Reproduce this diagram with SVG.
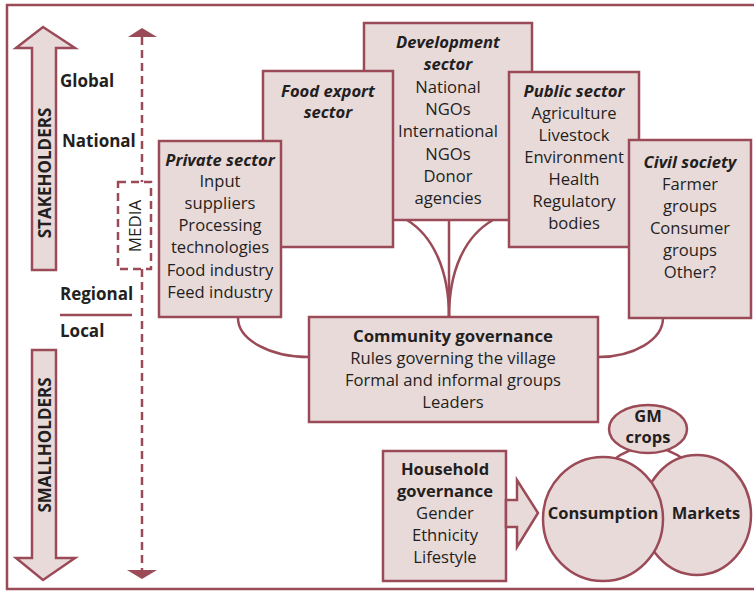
<svg xmlns="http://www.w3.org/2000/svg" width="754" height="592" viewBox="0 0 754 592">
<style>
.box{fill:#e9dada;stroke:#9b4b57;stroke-width:2.5}
.ln{fill:none;stroke:#9b4b57;stroke-width:2.5}
.dash{fill:none;stroke:#9b4b57;stroke-width:2.5;stroke-dasharray:8 5}
.hd{fill:#9b4b57;stroke:none}
text{font-family:"Open Sans","DejaVu Sans",sans-serif;fill:#231f20;text-anchor:middle}
.t{font-size:16.6px}
.bi{font-size:16.6px;font-weight:bold;font-style:italic}
.b{font-size:16.5px;font-weight:bold}
.lab{font-size:17px;font-weight:bold;text-anchor:start}
</style>
<rect x="7" y="5" width="770" height="584" class="ln" stroke-width="3"/>
<g id="stakeholders">
<polygon class="box" points="43,27 75,48 56,48 56,270 32,270 32,48 16,48"/>
<text class="b" style="font-size:17px" transform="translate(51,173) rotate(-90)">STAKEHOLDERS</text>
</g>
<g id="smallholders">
<polygon class="box" points="32,350 56,350 56,558 75,558 43,580 16,558 32,558"/>
<text class="b" style="font-size:17px" transform="translate(51,445) rotate(-90)">SMALLHOLDERS</text>
</g>
<g id="levels">
<text class="lab" x="60" y="87">Global</text>
<text class="lab" x="62" y="147">National</text>
<text class="lab" x="60" y="300">Regional</text>
<line class="ln" x1="60" y1="315" x2="132" y2="315"/>
<text class="lab" x="60" y="337">Local</text>
</g>
<g id="media">
<line class="dash" x1="142" y1="37" x2="142" y2="182"/>
<line class="dash" x1="142" y1="269" x2="142" y2="571"/>
<polygon class="hd" points="142,28 157,37 128,37"/>
<polygon class="hd" points="127,570 157,570 142,579"/>
<rect class="dash" x="118" y="182" width="33" height="87"/>
<text class="t" style="font-size:17px" transform="translate(141,226) rotate(-90)">MEDIA</text>
</g>
<g id="connectors">
<path class="ln" d="M238 318 A71 39 0 0 0 309 357"/>
<path class="ln" d="M663 318 A65 39 0 0 1 598 357"/>
<line class="ln" x1="449" y1="220" x2="449" y2="317"/>
<path class="ln" d="M407 220 C433 236 449 270 449 317"/>
<path class="ln" d="M493 220 C465 236 449 270 449 317"/>
<path class="ln" d="M612 461 Q648 432 686 461"/>
</g>
<g id="development">
<rect class="box" x="364" y="23" width="168" height="197"/>
<text class="bi" x="448" y="48">Development</text>
<text class="bi" x="448" y="70">sector</text>
<text class="t" x="448" y="93">National</text>
<text class="t" x="448" y="115">NGOs</text>
<text class="t" x="448" y="137">International</text>
<text class="t" x="448" y="160">NGOs</text>
<text class="t" x="448" y="182">Donor</text>
<text class="t" x="448" y="204">agencies</text>
</g>
<g id="food-export">
<rect class="box" x="263" y="71" width="130" height="176"/>
<text class="bi" x="328" y="97">Food export</text>
<text class="bi" x="328" y="118">sector</text>
</g>
<g id="private">
<rect class="box" x="159" y="141" width="122" height="176"/>
<text class="bi" x="220" y="166">Private sector</text>
<text class="t" x="220" y="187">Input</text>
<text class="t" x="220" y="209">suppliers</text>
<text class="t" x="220" y="231">Processing</text>
<text class="t" x="220" y="253">technologies</text>
<text class="t" x="220" y="276">Food industry</text>
<text class="t" x="220" y="298">Feed industry</text>
</g>
<g id="public">
<rect class="box" x="509" y="72" width="130" height="175"/>
<text class="bi" x="574" y="97">Public sector</text>
<text class="t" x="574" y="119">Agriculture</text>
<text class="t" x="574" y="141">Livestock</text>
<text class="t" x="574" y="163">Environment</text>
<text class="t" x="574" y="185">Health</text>
<text class="t" x="574" y="207">Regulatory</text>
<text class="t" x="574" y="229">bodies</text>
</g>
<g id="civil">
<rect class="box" x="629" y="140" width="122" height="178"/>
<text class="bi" x="690" y="168">Civil society</text>
<text class="t" x="690" y="190">Farmer</text>
<text class="t" x="690" y="212">groups</text>
<text class="t" x="690" y="234">Consumer</text>
<text class="t" x="690" y="256">groups</text>
<text class="t" x="690" y="278">Other?</text>
</g>
<g id="community">
<rect class="box" x="309" y="317" width="289" height="105"/>
<text class="b" style="font-size:16.8px" x="453" y="342">Community governance</text>
<text class="t" x="453" y="364">Rules governing the village</text>
<text class="t" x="453" y="386">Formal and informal groups</text>
<text class="t" x="453" y="408">Leaders</text>
</g>
<g id="household">
<rect class="box" x="383" y="451" width="123" height="130"/>
<text class="b" x="445" y="475">Household</text>
<text class="b" x="445" y="497">governance</text>
<text class="t" x="445" y="519">Gender</text>
<text class="t" x="445" y="541">Ethnicity</text>
<text class="t" x="445" y="563">Lifestyle</text>
</g>
<g id="arrow">
<polygon class="box" points="506,500 517,500 517,480 538,513 517,547 517,527 506,527"/>
</g>
<g id="gm-crops">
<ellipse class="box" cx="648" cy="429" rx="39" ry="24"/>
<text class="b" x="648" y="422">GM</text>
<text class="b" x="648" y="443">crops</text>
</g>
<g id="markets">
<ellipse class="box" cx="697" cy="515" rx="54" ry="60"/>
<text class="b" x="706" y="519">Markets</text>
</g>
<g id="consumption">
<ellipse class="box" cx="603" cy="519" rx="60" ry="62"/>
<text class="b" x="603" y="519">Consumption</text>
</g>
</svg>
